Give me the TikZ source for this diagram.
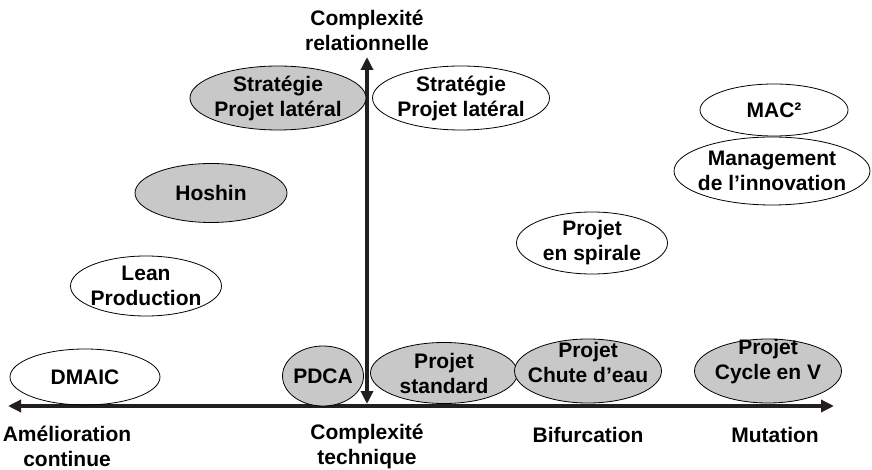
\documentclass[tikz,border=0pt]{standalone}
\usepackage{fontspec}
\setmainfont{Liberation Sans}
\usepackage{tikz}
\usetikzlibrary{
  shapes.geometric, % Shape "ellipse"
  arrows.meta,
}
\definecolor{ovalgrey}{RGB}{200,200,200}
\definecolor{axisblack}{RGB}{35,31,32}
\tikzset{
  font=\bfseries\fontsize{21}{25}\selectfont,
  semithick,
  my oval/.style={
    draw,
    ellipse,
    align=center,
    line width=0.8pt,
    % negative sep: size comes from minimum width/height only
    inner xsep=-30pt,
    inner ysep=-15pt
  },
  my grey oval/.style={
    my oval,
    fill=ovalgrey
  },
  my axis/.style={
    draw=axisblack,
    line width=4pt,
    {Triangle[length=13pt,width=12pt]}-{Triangle[length=13pt,width=12pt]}
  },
  my label/.style={
    align=center,
    inner sep=0pt
  },
  % text sitting high in its oval
  high text/.style={
    label={[my label,yshift=9pt]center:#1}
  }
}

\begin{document}
\begin{tikzpicture}[x=1pt,y=-1pt]
\useasboundingbox (0,0) rectangle (872,470);
% axes
\coordinate (vbot)   at (367,404);
\coordinate (vtop)   at (367,57);
\coordinate (hleft)  at (8,406);
\coordinate (hright) at (834,406);
\draw[my axis] (hleft) -- (hright);
\draw[my axis] (vbot) -- (vtop);
% axis labels
\node[my label] (relat)  at (367,30)  {Complexité\\relationnelle};
\node[my label] (amelio) at (67,446)  {Amélioration\\continue};
\node[my label] (techn)  at (367,446) {Complexité\\technique};
\node[my label] (bifur)  at (588,435) {Bifurcation};
\node[my label] (mutat)  at (775,435) {Mutation};
% methods
\node[my grey oval,minimum width=176pt,minimum height=64pt] (stratA)   at (278,98)  {Stratégie\\Projet latéral};
\node[my oval,minimum width=177pt,minimum height=64pt]      (stratB)   at (461,98)  {Stratégie\\Projet latéral};
\node[my oval,minimum width=148pt,minimum height=52pt]      (mac)      at (774,110) {MAC²};
\node[my oval,minimum width=196pt,minimum height=68pt]      (mgmt)     at (772,171) {Management\\de l’innovation};
\node[my grey oval,minimum width=152pt,minimum height=59pt] (hoshin)   at (211,193) {Hoshin};
\node[my oval,minimum width=151pt,minimum height=62pt]      (spirale)  at (592,243) {Projet\\en spirale};
\node[my oval,minimum width=151pt,minimum height=60pt]      (lean)     at (146,286) {Lean\\Production};
\node[my oval,minimum width=150pt,minimum height=56pt]      (dmaic)    at (85,377)  {DMAIC};
\node[my grey oval,minimum width=81pt,minimum height=60pt]  (pdca)     at (323,376) {PDCA};
\node[my grey oval,minimum width=147pt,minimum height=61pt] (standard) at (444,373) {Projet\\standard};
\node[my grey oval,minimum width=147pt,minimum height=64pt,
      high text={Projet\\Chute d’eau}]                      (chute)    at (588,371) {};
\node[my grey oval,minimum width=147pt,minimum height=64pt,
      high text={Projet\\Cycle en V}]                       (cyclev)   at (768,371) {};
\end{tikzpicture}
\end{document}
